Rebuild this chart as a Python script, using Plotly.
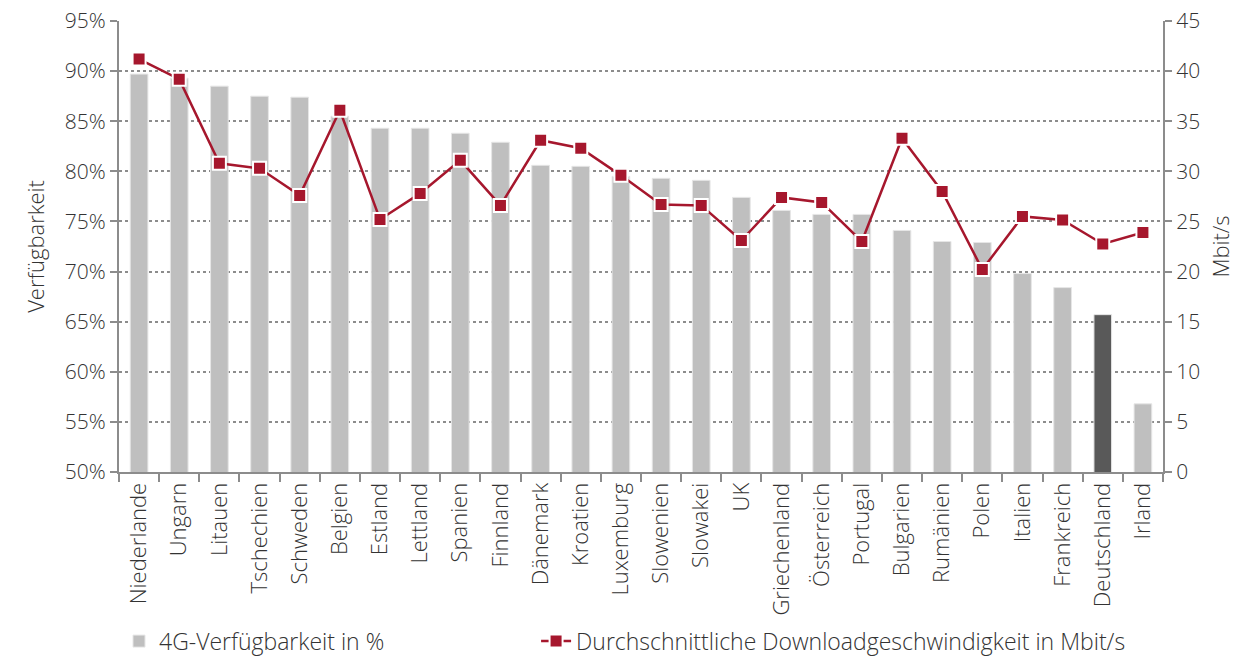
import plotly.graph_objects as go

countries = ["Niederlande", "Ungarn", "Litauen", "Tschechien", "Schweden", "Belgien",
             "Estland", "Lettland", "Spanien", "Finnland", "Dänemark", "Kroatien",
             "Luxemburg", "Slowenien", "Slowakei", "UK", "Griechenland", "Österreich",
             "Portugal", "Bulgarien", "Rumänien", "Polen", "Italien", "Frankreich",
             "Deutschland", "Irland"]
availability = [89.7, 89.3, 88.5, 87.5, 87.4, 85.5, 84.3, 84.3, 83.8, 82.9, 80.6, 80.5,
                79.5, 79.3, 79.1, 77.4, 76.1, 75.7, 75.7, 74.1, 73.0, 72.9, 69.8, 68.4,
                65.7, 56.8]
speed = [41.2, 39.2, 30.8, 30.3, 27.6, 36.1, 25.2, 27.8, 31.1, 26.6, 33.1, 32.3,
         29.6, 26.7, 26.6, 23.1, 27.4, 26.9, 23.0, 33.3, 28.0, 20.2, 25.5, 25.15,
         22.75, 23.9]
highlight = "Deutschland"

bar_colors = ["#595959" if c == highlight else "#BFBFBF" for c in countries]
red = "#A6172D"
txt = "#333333"
axis_col = "#8C8C8C"
font_family = "Open Sans"
w = 300

fig = go.Figure()
fig.add_trace(go.Bar(
    x=countries, y=availability, name="4G-Verfügbarkeit in %",
    marker=dict(color=bar_colors, line=dict(color="#E6E6E6", width=1)),
    width=0.44, yaxis="y", legend="legend",
))
fig.add_trace(go.Scatter(
    x=countries, y=speed, name="Durchschnittliche Downloadgeschwindigkeit in Mbit/s",
    mode="lines+markers", yaxis="y2", legend="legend2",
    line=dict(color=red, width=2.5),
    marker=dict(symbol="square", size=13, color=red, line=dict(color="white", width=2)),
))

legend_common = dict(orientation="h", xanchor="left", yref="container", y=0.03,
                     yanchor="middle", font=dict(size=23, color=txt, weight=w),
                     bgcolor="rgba(0,0,0,0)")

fig.update_layout(
    width=1258, height=661,
    margin=dict(l=119, r=95, t=21, b=189),
    paper_bgcolor="white", plot_bgcolor="white",
    font=dict(family=font_family, size=21, color=txt, weight=w),
    showlegend=True,
    legend=dict(x=0.0, **legend_common),
    legend2=dict(x=0.3995, **legend_common),
    xaxis=dict(
        type="category", range=[-0.5, len(countries) - 0.5], autorange=False,
        tickangle=-90, showgrid=False, automargin=False,
        showline=True, linecolor=axis_col, linewidth=2,
        ticks="outside", ticklen=8, tickcolor=axis_col, tickwidth=2,
        tickson="boundaries", tickfont=dict(size=22, color=txt, weight=w),
    ),
    yaxis=dict(
        range=[50, 95], dtick=5, ticksuffix="%", automargin=False,
        title=dict(text="Verfügbarkeit", font=dict(size=22, color=txt, weight=w), standoff=14),
        showgrid=True, gridcolor=axis_col, griddash="dot", gridwidth=2,
        showline=True, linecolor=axis_col, linewidth=2,
        ticks="outside", ticklen=7, tickcolor=axis_col, tickwidth=2,
        zeroline=False, tickfont=dict(size=21, color=txt, weight=w),
    ),
    yaxis2=dict(
        range=[0, 45], dtick=5, overlaying="y", side="right", automargin=False,
        title=dict(text="Mbit/s", font=dict(size=22, color=txt, weight=w), standoff=14),
        showgrid=False, zeroline=False,
        showline=True, linecolor=axis_col, linewidth=2,
        ticks="outside", ticklen=7, tickcolor=axis_col, tickwidth=2,
        tickfont=dict(size=21, color=txt, weight=w),
    ),
)

fig.write_html("out.html", config={"displayModeBar": False},
               post_script="document.body.style.margin='0';")
